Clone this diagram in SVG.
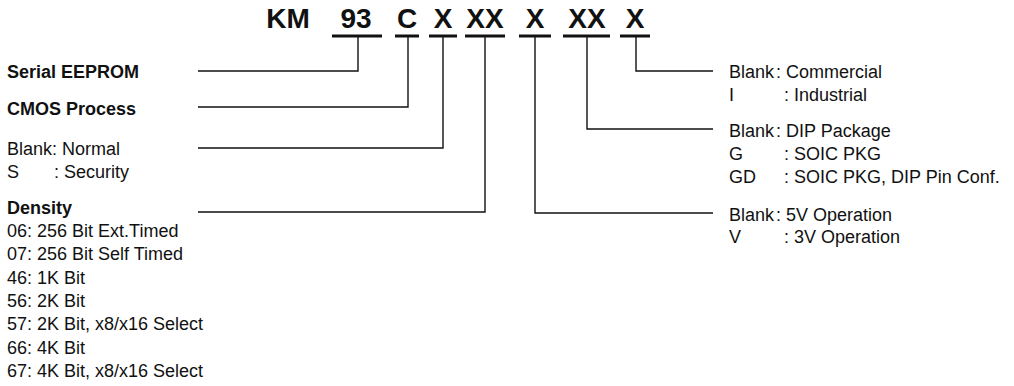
<svg xmlns="http://www.w3.org/2000/svg" width="1014" height="386" viewBox="0 0 1014 386">
<style>
text{font-family:"Liberation Sans",Arial,Helvetica,sans-serif;fill:#111}
.t{font-size:28px;font-weight:bold;text-anchor:middle}
.b{font-size:18px;font-weight:bold}
.n{font-size:18px}
.ul{stroke:#111;stroke-width:3;fill:none}
.c{stroke:#111;stroke-width:1.4;fill:none}
</style>
<rect width="1014" height="386" fill="#fff"/>
<g id="title">
<text class="t" x="288" y="28">KM</text>
<text class="t" x="356" y="28">93</text>
<text class="t" x="407" y="28">C</text>
<text class="t" x="443" y="28">X</text>
<text class="t" x="485" y="28">XX</text>
<text class="t" x="535" y="28">X</text>
<text class="t" x="587" y="28">XX</text>
<text class="t" x="635" y="28">X</text>
<path class="ul" d="M332,36H382M395,36H419M429,36H457M465,36H505M519,36H551M563,36H610M620,36H650"/>
</g>
<g id="connectors">
<path class="c" d="M198,71H358V36"/>
<path class="c" d="M198,107H408V36"/>
<path class="c" d="M198,148H443V36"/>
<path class="c" d="M198,212H485V36"/>
<path class="c" d="M535,36V213H713"/>
<path class="c" d="M587,36V129H713"/>
<path class="c" d="M636,36V71H713"/>
</g>
<g id="serial"><text class="b" x="7" y="78">Serial EEPROM</text></g>
<g id="cmos"><text class="b" x="7" y="115">CMOS Process</text></g>
<g id="security">
<text class="n" x="7" y="155">Blank: Normal</text>
<text class="n" x="7" y="178">S<tspan x="54">: Security</tspan></text>
</g>
<g id="density">
<text class="b" x="7" y="214">Density</text>
<text class="n" x="7" y="237">06: 256 Bit Ext.Timed</text>
<text class="n" x="7" y="260">07: 256 Bit Self Timed</text>
<text class="n" x="7" y="284">46: 1K Bit</text>
<text class="n" x="7" y="307">56: 2K Bit</text>
<text class="n" x="7" y="330">57: 2K Bit, x8/x16 Select</text>
<text class="n" x="7" y="354">66: 4K Bit</text>
<text class="n" x="7" y="377">67: 4K Bit, x8/x16 Select</text>
</g>
<g id="temp">
<text class="n" x="729" y="78">Blank<tspan x="776">: Commercial</tspan></text>
<text class="n" x="729" y="101">I<tspan x="784">: Industrial</tspan></text>
</g>
<g id="package">
<text class="n" x="729" y="137">Blank<tspan x="776">: DIP Package</tspan></text>
<text class="n" x="729" y="160">G<tspan x="784">: SOIC PKG</tspan></text>
<text class="n" x="729" y="183">GD<tspan x="784">: SOIC PKG, DIP Pin Conf.</tspan></text>
</g>
<g id="voltage">
<text class="n" x="729" y="221">Blank<tspan x="776">: 5V Operation</tspan></text>
<text class="n" x="729" y="243">V<tspan x="784">: 3V Operation</tspan></text>
</g>
</svg>
